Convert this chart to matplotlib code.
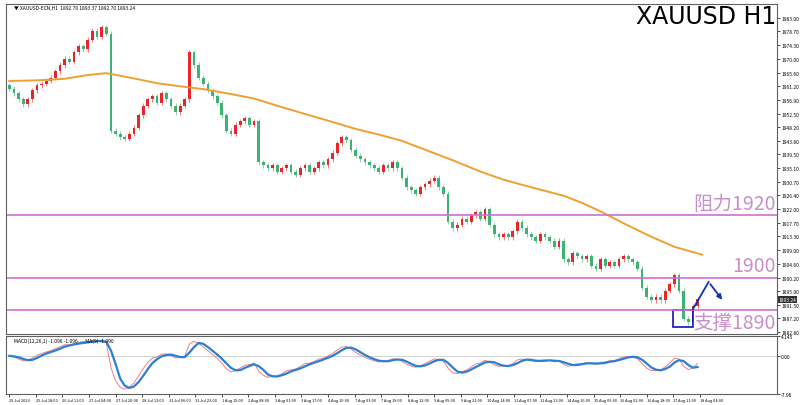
import matplotlib
matplotlib.use("Agg")
import matplotlib.pyplot as plt
import numpy as np
import pandas as pd
from matplotlib.patches import Rectangle

plt.rcParams['font.family'] = ['Noto Sans CJK SC', 'DejaVu Sans']

closes = [1960.5,1959,1957,1955.5,1957,1960,1961.5,1962,1963,1964,
          1966,1968,1970,1969,1972,1974,1973,1976,1979,1977,
          1980,1978,1947,1946,1945,1944.5,1946,1948,1952,1955,
          1957,1958,1956,1959,1957,1955,1953,1955,1957,1972,
          1968,1964,1962,1960,1958,1956,1952,1947,1946,1949,
          1950,1951,1949,1950,1937,1936,1935,1936,1934,1935,
          1936,1934,1933,1935,1936,1934,1935,1937,1936,1938,
          1940,1943,1945,1944,1941,1939,1938,1937,1936,1935,
          1934,1936,1935,1937,1935,1932,1929,1928,1927,1929,
          1930,1931,1932,1929,1927,1918,1916,1917,1919,1918,
          1920,1921,1919,1922,1917,1914,1913,1914,1913,1915,
          1918,1916,1914,1913,1912,1914,1913,1912,1910,1912,
          1906,1905,1908,1907,1906,1907,1904,1903,1906,1904,
          1905,1904,1906,1907,1906,1905,1903,1897,1894,1893,
          1894,1893,1896,1898,1901,1896,1887,1886,1891,1893.24]
first_open = 1961.5
ma_idx = [0, 6, 12, 17, 21, 26, 32, 37, 42, 47, 53, 58, 64, 70, 75, 80, 85, 90, 96, 102,
          107, 113, 120, 124, 128, 133, 139, 144, 150]
ma_val = [1962.9, 1963.1, 1963.6, 1964.8, 1965.4, 1964.0, 1962.2, 1961.2, 1960.3, 1959.0,
          1957.3, 1955.0, 1952.4, 1949.8, 1947.6, 1945.8, 1943.8, 1941.0, 1937.6, 1934.0,
          1931.4, 1929.0, 1926.3, 1924.0, 1921.3, 1917.5, 1913.2, 1910.0, 1907.5]
levels = [1920.0, 1900.0, 1889.8]
level_labels = ["阻力1920", "1900", "支撑1890"]
yticks = [1983.00,1978.70,1974.30,1970.00,1965.60,1961.20,1956.90,1952.50,1948.20,1943.80,
          1939.50,1935.10,1930.70,1926.40,1922.00,1917.70,1913.30,1909.00,1904.60,1900.20,
          1895.90,1891.50,1887.20,1882.80]
xlabels = ["25 Jul 2023","25 Jul 18:00","26 Jul 11:00","27 Jul 04:00","27 Jul 20:00","28 Jul 13:00",
           "31 Jul 06:00","31 Jul 22:00","1 Aug 15:00","2 Aug 08:00","3 Aug 01:00","3 Aug 17:00",
           "4 Aug 10:00","7 Aug 03:00","7 Aug 19:00","8 Aug 12:00","9 Aug 05:00","9 Aug 21:00",
           "10 Aug 14:00","11 Aug 07:00","11 Aug 23:00","14 Aug 16:00","15 Aug 09:00","16 Aug 02:00",
           "16 Aug 18:00","17 Aug 11:00","18 Aug 04:00"]
arrow_x = [148, 151.4, 154.7]
arrow_y = [1890.1, 1898.8, 1892.4]

c = np.array(closes)
o = np.concatenate([[first_open], c[:-1]])
hi = np.maximum(o, c) + 0.8
lo = np.minimum(o, c) - 0.8
n = len(c)
idx = np.arange(n)

fig = plt.figure(figsize=(8.01, 4.06), dpi=100)
ax = fig.add_axes([0.007, 0.175, 0.963, 0.813])
ax2 = fig.add_axes([0.007, 0.027, 0.963, 0.143])

for i in range(n):
    col = '#e8262a' if c[i] >= o[i] else '#3cb371'
    ax.vlines(i, lo[i], hi[i], color=col, lw=0.7, alpha=0.6)
    ax.add_patch(Rectangle((i - 0.3, min(o[i], c[i])), 0.6, max(abs(c[i] - o[i]), 0.2), color=col, lw=0))

ax.plot(ma_idx, ma_val, color='#f0a030', lw=1.4)
for lv in levels:
    ax.axhline(lv, color='#d070d0', lw=1.2)
tx = 166
ax.text(tx, levels[0] + 0.6, level_labels[0], ha='right', va='bottom', fontsize=14, color='#c890c8')
ax.text(tx, levels[1] + 0.6, level_labels[1], ha='right', va='bottom', fontsize=14, color='#c890c8')
ax.text(tx, levels[2] - 0.5, level_labels[2], ha='right', va='top', fontsize=14, color='#c890c8')
ax.text(166, 1983.5, "XAUUSD H1", ha='right', va='center', fontsize=17, color='black', family='DejaVu Sans')
ax.text(1, 1986.5, "▼ XAUUSD-ECN,H1  1892.70 1893.37 1892.70 1893.24", fontsize=3.5, va='center')

ax.add_patch(Rectangle((143.7, 1884.4), 4.4, 5.4, fill=False, ec='#1010c0', lw=1.2))
ax.annotate('', xy=(arrow_x[2], arrow_y[2]), xytext=(arrow_x[1], arrow_y[1]),
            arrowprops=dict(arrowstyle='-|>', color='#1030c0', lw=1.3, mutation_scale=7))
ax.plot(arrow_x[:2], arrow_y[:2], color='#1030c0', lw=1.3)

ax.set_xlim(-0.8, 166.2)
ax.set_ylim(1882.2, 1987.5)
ax.yaxis.tick_right()
ax.set_yticks(yticks)
ax.set_yticklabels([f"{v:.2f}" for v in yticks], fontsize=3.5)
ax.set_xticks([])
ax.tick_params(axis='y', length=2, width=0.5, pad=1)
ax.text(1.002, (1893.24 - 1882.2) / (1987.5 - 1882.2), "1893.24", transform=ax.transAxes, fontsize=3.5,
        color='white', va='center', ha='left', bbox=dict(fc='#303030', ec='none', pad=0.5))

s = pd.Series(c)
macd = s.ewm(span=5, adjust=False).mean() - s.ewm(span=10, adjust=False).mean()
sig = macd.rolling(3, min_periods=1).mean()
ax2.axhline(0, color='#cccccc', lw=0.6)
ax2.plot(idx, macd, color='#f08080', lw=0.7)
ax2.plot(idx, sig, color='#2a7fd8', lw=1.6)
ax2.set_xlim(-0.8, 166.2)
ax2.set_ylim(-7.96, 4.145)
ax2.yaxis.tick_right()
ax2.set_yticks([4.145, 0, -7.96])
ax2.set_yticklabels(["4.145", "0.00", "-7.96"], fontsize=3.5)
ax2.tick_params(axis='y', length=2, width=0.5, pad=1)
xt = np.linspace(0, 149.5, len(xlabels))
ax2.set_xticks(xt)
ax2.set_xticklabels(xlabels, fontsize=2.8, ha='left')
ax2.tick_params(axis='x', length=2, width=0.5, pad=1)
ax2.text(1, 3.3, "MACD(12,26,1) -1.096 -1.096  ---MA(9) -1.990", fontsize=3.5, va='center')
for a in (ax, ax2):
    for sp in a.spines.values():
        sp.set_linewidth(0.8)
        sp.set_color('#606060')

fig.savefig("out.png", dpi=100)
